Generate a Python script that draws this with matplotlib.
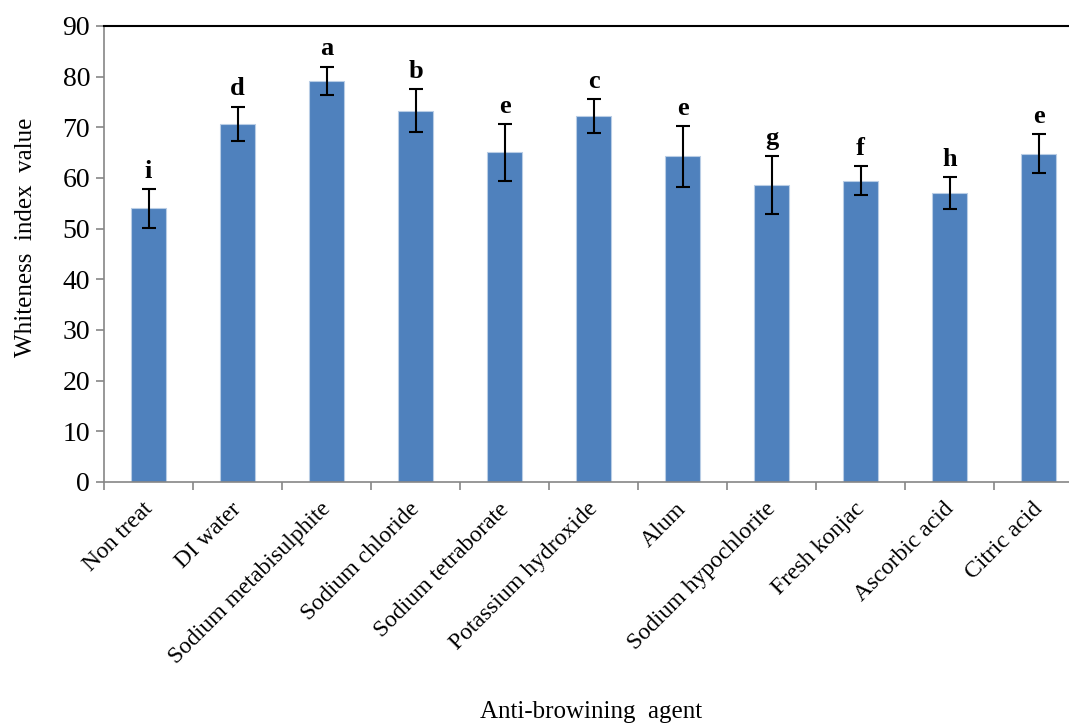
import matplotlib
matplotlib.use("Agg")
import matplotlib.pyplot as plt
import matplotlib.transforms as mtransforms
import numpy as np

plt.rcParams["font.family"] = ["Liberation Serif", "DejaVu Serif"]

agents = [
    "Non treat", "DI water", "Sodium metabisulphite", "Sodium chloride",
    "Sodium tetraborate", "Potassium hydroxide", "Alum", "Sodium hypochlorite",
    "Fresh konjac", "Ascorbic acid", "Citric acid",
]
whiteness = [54.0, 70.7, 79.2, 73.3, 65.1, 72.2, 64.3, 58.6, 59.5, 57.0, 64.8]
errors = [3.8, 3.4, 2.8, 4.3, 5.6, 3.4, 6.0, 5.8, 2.8, 3.1, 3.9]
letters = ["i", "d", "a", "b", "e", "c", "e", "g", "f", "h", "e"]

fig = plt.figure(figsize=(10.69, 7.24), dpi=100)
ax = fig.add_axes([0.0973, 0.3343, 0.9158, 0.6298])

x = np.arange(len(agents))
ax.bar(x, whiteness, width=0.4, color="#4F81BD", edgecolor="#B9CDE5", linewidth=0.8)
ax.errorbar(x, whiteness, yerr=errors, fmt="none", ecolor="black",
            elinewidth=1.5, capsize=5, capthick=1.5)

# significance letters above the error bars
for xi, v, e, lab in zip(x, whiteness, errors, letters):
    ax.text(xi, v + e + 1.2, lab, ha="center", va="bottom",
            fontsize=19, fontweight="bold")

ax.set_xlim(-0.5, len(agents) - 0.5)
ax.set_ylim(0, 90)
ax.set_yticks(np.arange(0, 91, 10))
ax.tick_params(axis="y", labelsize=20, direction="out", length=6,
               color="#868686", width=1.2, pad=4)

ax.set_xticks(x)
ax.set_xticklabels(agents, rotation=45, ha="right", fontsize=17)
ax.set_xticks(np.arange(-0.5, len(agents), 1), minor=True)
ax.tick_params(axis="x", which="major", length=0, pad=10)
ax.tick_params(axis="x", which="minor", length=6, color="#868686",
               width=1.2, direction="out")
shift = mtransforms.ScaledTranslation(6 / 72, -2 / 72, fig.dpi_scale_trans)
for lbl in ax.get_xticklabels():
    lbl.set_transform(lbl.get_transform() + shift)

ax.spines["right"].set_visible(False)
ax.spines["left"].set_color("#868686")
ax.spines["bottom"].set_color("#868686")
ax.spines["left"].set_linewidth(1.2)
ax.spines["bottom"].set_linewidth(1.2)
ax.spines["top"].set_color("black")
ax.spines["top"].set_linewidth(1.5)

ax.set_ylabel("Whiteness  index  value", fontsize=18, labelpad=14)
ax.yaxis.set_label_coords(-0.068, 0.537)
fig.text(0.553, 0.017, "Anti-browining  agent", ha="center", va="center",
         fontsize=18)

fig.savefig("out.png", dpi=100)
